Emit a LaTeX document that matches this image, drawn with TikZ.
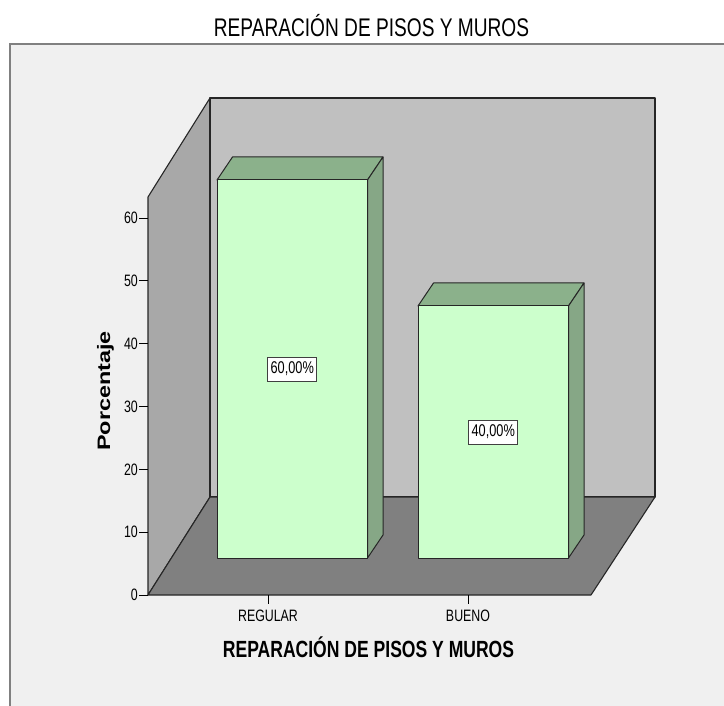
\documentclass[tikz,border=0pt]{standalone}
\usepackage{fontspec}
\setmainfont{Liberation Sans}
\newfontfamily\narrowfont{Liberation Sans}[FakeStretch=0.75]
\newfontfamily\tallfont{Liberation Sans}[FakeStretch=1.3]

\definecolor{panelgray}{HTML}{F0F0F0}
\definecolor{leftwall}{HTML}{A8A8A8}
\definecolor{backwall}{HTML}{C0C0C0}
\definecolor{floorgray}{HTML}{808080}
\definecolor{barfront}{HTML}{CCFFCC}
\definecolor{bartop}{HTML}{8BB18B}
\definecolor{barside}{HTML}{86A786}

\tikzset{
    wallline/.style={draw=black!85,line width=1.1pt,line join=round},
    barline/.style={draw=black!85,line width=1pt,line join=round},
    ticklabel/.style={inner sep=0pt,font={\narrowfont\fontsize{16.5}{18}\selectfont}},
    valbox/.style={draw=black!75,fill=white,line width=.8pt,inner xsep=3pt,inner ysep=5pt,font={\narrowfont\fontsize{17}{19}\selectfont}}
}

\begin{document}
\begin{tikzpicture}[x=1pt,y=-1pt]

                \useasboundingbox (0,0) rectangle (724,706);
                \fill[white] (0,0) rectangle (724,706);

                % Panel behind the chart
                \fill[panelgray] (10,44) rectangle (724,706);
                \draw[gray,line width=1.6pt] (724,44) -- (10,44) -- (10,706);

                % Walls and floor
                \filldraw[wallline,fill=leftwall] (148,595) -- (148,197) -- (210,98) -- (210,497) -- cycle;
                \filldraw[wallline,fill=backwall] (210,497) rectangle (655,98);
                \filldraw[wallline,fill=floorgray] (148,595) -- (591,595) -- (655,497) -- (210,497) -- cycle;

                % Ticks and labels of the percentage axis
                \foreach \v in {0,10,...,60} {
                \draw[line width=1pt] (139,{595-6.28*\v}) -- (148,{595-6.28*\v});
                \node [ticklabel,anchor=east] (tick\v) at (138,{595-6.28*\v}) {\v};
                }

                % Bars with their values
                \foreach \n/\xl/\val/\lab in {
                1/217/60/{60,00\%},
                2/418/40/{40,00\%}} {
                \pgfmathsetmacro\yt{558-6.3*\val}
                \pgfmathsetmacro\xr{\xl+150.5}
                \filldraw[barline,fill=bartop] (\xl,\yt) -- ++(15.5,-23) -- ++(150.5,0) -- (\xr,\yt) -- cycle;
                \filldraw[barline,fill=barside] (\xr,558) -- ++(15.5,-23) -- ++(0,{\yt-558}) -- (\xr,\yt) -- cycle;
                \filldraw[barline,fill=barfront] (\xl,\yt) rectangle (\xr,558);
                \node [valbox] (val\n) at ({(\xl+\xr)/2},{(\yt+558)/2}) {\lab};
                }

                % Category ticks and labels
                \foreach \n/\x/\lab in {1/268/REGULAR,2/468/BUENO} {
                \draw[line width=1pt] (\x,595) -- (\x,604);
                \node [ticklabel,anchor=base] (cat\n) at (\x,621) {\lab};
                }

                % Titles
                \node [anchor=base,inner sep=0pt,font={\narrowfont\fontsize{25.5}{28}\selectfont}] (title) at (371.5,36.7) {REPARACIÓN DE PISOS Y MUROS};
                \node [anchor=base,inner sep=0pt,font={\narrowfont\bfseries\fontsize{23.4}{26}\selectfont}] (xtitle) at (368.5,657) {REPARACIÓN DE PISOS Y MUROS};
                \node [anchor=base,rotate=90,inner sep=0pt,font={\tallfont\bfseries\fontsize{18}{20}\selectfont}] (ytitle) at (110,391) {Porcentaje};

            \end{tikzpicture}
\end{document}
